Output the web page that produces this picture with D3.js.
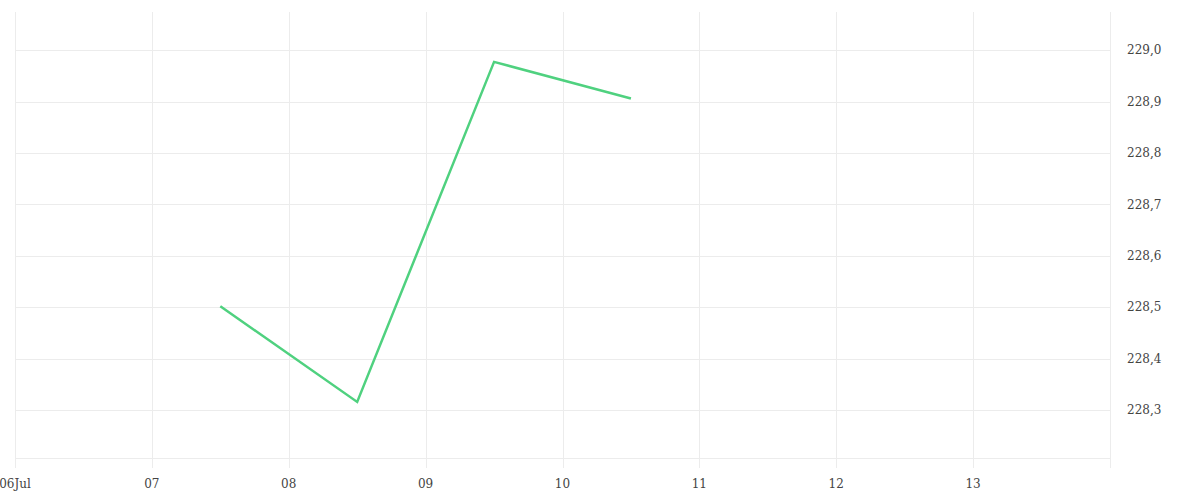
<!DOCTYPE html>
<html>
<head>
<meta charset="utf-8">
<script src="https://cdn.jsdelivr.net/npm/d3@7"></script>
<style>
  html, body { margin: 0; padding: 0; background: #fff; }
  .tick-label { font-family: "DejaVu Serif", serif; font-size: 12px; fill: #444; }
</style>
</head>
<body>
<div id="chart"></div>
<script>
// Series data
const dates = ["2024-07-07T12:00", "2024-07-08T12:00", "2024-07-09T12:00", "2024-07-10T12:00"];
const values = [228.502, 228.316, 228.977, 228.906];

// Axis ticks
const xTicks = ["2024-07-06", "2024-07-07", "2024-07-08", "2024-07-09", "2024-07-10",
                "2024-07-11", "2024-07-12", "2024-07-13", "2024-07-14"];
const yTicks = [228.3, 228.4, 228.5, 228.6, 228.7, 228.8, 228.9, 229.0];

const width = 1200, height = 500;
const margin = { top: 12, right: 90, bottom: 42, left: 15 };

const svg = d3.select("#chart")
  .append("svg")
  .attr("width", width)
  .attr("height", height);

const parse = d3.isoParse;

const x = d3.scaleTime()
  .domain([parse("2024-07-06"), parse("2024-07-14")])
  .range([margin.left, width - margin.right]);

const y = d3.scaleLinear()
  .domain([228.207, 229.074])
  .range([height - margin.bottom, margin.top]);

const locale = d3.formatLocale({ decimal: ",", thousands: ".", grouping: [3], currency: ["", "€"] });
const yFmt = locale.format(".1f");

const grid = svg.append("g");

// horizontal gridlines
grid.selectAll("line.h")
  .data(yTicks)
  .join("line")
  .attr("class", "h")
  .attr("x1", margin.left)
  .attr("x2", width - margin.right)
  .attr("y1", d => Math.round(y(d)) + 0.5)
  .attr("y2", d => Math.round(y(d)) + 0.5)
  .attr("stroke", "#ececec");

// bottom edge line
grid.append("line")
  .attr("x1", margin.left)
  .attr("x2", width - margin.right)
  .attr("y1", height - margin.bottom + 0.5)
  .attr("y2", height - margin.bottom + 0.5)
  .attr("stroke", "#ececec");

// vertical gridlines with small tick below plot
grid.selectAll("line.v")
  .data(xTicks)
  .join("line")
  .attr("class", "v")
  .attr("x1", d => Math.round(x(parse(d))) + 0.5)
  .attr("x2", d => Math.round(x(parse(d))) + 0.5)
  .attr("y1", margin.top)
  .attr("y2", height - margin.bottom + 10)
  .attr("stroke", "#ececec");

// x labels (last tick is the plot edge, unlabeled)
svg.append("g")
  .selectAll("text")
  .data(xTicks.slice(0, -1))
  .join("text")
  .attr("class", "tick-label")
  .attr("x", d => x(parse(d)))
  .attr("y", 488)
  .attr("text-anchor", "middle")
  .text((d, i) => {
    const dt = parse(d);
    return i === 0 ? d3.timeFormat("%d")(dt) + d3.timeFormat("%b")(dt) : d3.timeFormat("%d")(dt);
  });

// y labels on the right
svg.append("g")
  .selectAll("text")
  .data(yTicks)
  .join("text")
  .attr("class", "tick-label")
  .attr("x", width - margin.right + 17)
  .attr("y", d => y(d))
  .attr("dy", "0.35em")
  .text(d => yFmt(d));

// line
const line = d3.line()
  .x((d, i) => x(parse(dates[i])))
  .y(d => y(d));

svg.append("path")
  .datum(values)
  .attr("d", line)
  .attr("fill", "none")
  .attr("stroke", "#4fd17f")
  .attr("stroke-width", 2.5)
  .attr("stroke-linejoin", "miter");
</script>
</body>
</html>
